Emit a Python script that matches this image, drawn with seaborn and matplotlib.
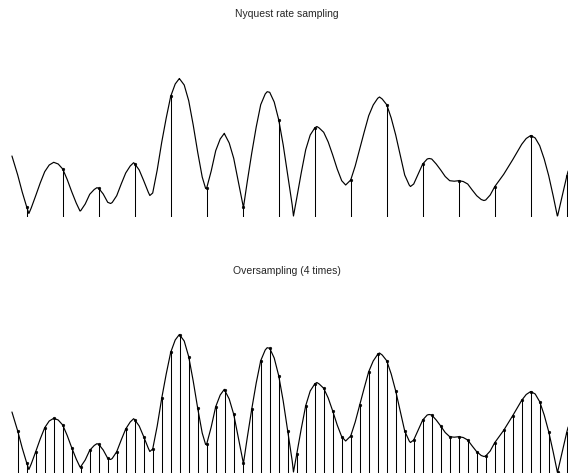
import matplotlib
matplotlib.use("Agg")
import matplotlib.pyplot as plt
import seaborn as sns
import pandas as pd

# Continuous signal envelope: (time in sample periods, amplitude)
curve_t = [
    -0.41, -0.25, -0.125, 0.0, 0.06, 0.125, 0.25, 0.375, 0.5, 0.625, 0.75, 0.875,
    1.0, 1.125, 1.25, 1.375, 1.48, 1.5, 1.625, 1.75, 1.875, 1.95, 2.0, 2.125, 2.25,
    2.33, 2.375, 2.5, 2.625, 2.75, 2.875, 2.97, 3.0, 3.125, 3.25, 3.375, 3.42, 3.5,
    3.625, 3.75, 3.875, 4.0, 4.125, 4.24, 4.25, 4.375, 4.5, 4.625, 4.75, 4.875,
    4.97, 5.0, 5.125, 5.25, 5.375, 5.49, 5.5, 5.625, 5.75, 5.875, 6.02, 6.125,
    6.25, 6.375, 6.5, 6.625, 6.68, 6.75, 6.875, 7.0, 7.125, 7.25, 7.375, 7.41,
    7.5, 7.625, 7.75, 7.875, 8.0, 8.06, 8.125, 8.25, 8.375, 8.5, 8.625, 8.75,
    8.86, 9.0, 9.125, 9.25, 9.375, 9.5, 9.625, 9.75, 9.8, 9.875, 10.0, 10.125,
    10.25, 10.375, 10.5, 10.625, 10.66, 10.75, 10.875, 11.0, 11.125, 11.18,
    11.25, 11.375, 11.5, 11.625, 11.75, 11.875, 12.0, 12.125, 12.25, 12.375,
    12.5, 12.625, 12.7, 12.75, 12.875, 13.0, 13.125, 13.25, 13.375, 13.5,
    13.625, 13.75, 13.875, 14.0, 14.125, 14.25, 14.375, 14.5, 14.625, 14.74,
    14.75, 14.875, 15.0, 15.04,
]
curve_amp = [
    61.0, 42.0, 25.0, 10.0, 3.5, 9.0, 21.3, 34.0, 45.3, 52.0, 54.7, 53.0,
    48.0, 37.5, 25.3, 14.0, 6.0, 6.3, 13.0, 22.7, 27.5, 29.3, 28.7, 23.0, 14.7,
    13.5, 14.5, 21.3, 33.0, 44.0, 51.0, 54.3, 53.3, 47.0, 36.3, 25.0, 21.5, 24.0,
    47.0, 74.7, 99.0, 120.7, 133.0, 138.5, 138.0, 132.0, 116.3, 92.0, 64.7, 40.0,
    28.5, 29.0, 46.0, 66.3, 78.0, 83.7, 82.7, 74.0, 58.7, 36.0, 9.5, 35.0,
    63.7, 90.0, 112.3, 123.0, 125.3, 124.7, 115.0, 97.3, 72.0, 42.0, 12.0, 1.0,
    18.7, 44.0, 67.3, 82.0, 89.0, 90.5, 89.0, 84.7, 75.0, 62.0, 48.0, 36.3,
    32.0, 37.0, 51.0, 68.0, 85.0, 101.3, 112.0, 118.7, 120.0, 118.0, 112.3, 99.0,
    82.0, 62.0, 42.0, 32.0, 30.5, 33.0, 43.0, 53.0, 58.0, 58.5,
    58.0, 53.0, 47.0, 40.5, 36.3, 35.8, 36.3, 35.5, 33.0, 27.0,
    21.3, 17.5, 16.5, 17.0, 22.0, 30.3, 36.5, 42.7, 50.0, 57.3,
    65.0, 72.7, 78.5, 81.5, 79.0, 71.3, 58.0, 41.3, 21.0, 1.0,
    1.5, 21.0, 40.5, 46.0,
]

# Samples taken at four times the Nyquist rate, starting at t = -0.25
over_t = [
    -0.25, 0.0, 0.25, 0.5, 0.75, 1.0, 1.25, 1.5, 1.75, 2.0, 2.25, 2.5, 2.75,
    3.0, 3.25, 3.5, 3.75, 4.0, 4.25, 4.5, 4.75, 5.0, 5.25, 5.5, 5.75, 6.0,
    6.25, 6.5, 6.75, 7.0, 7.25, 7.5, 7.75, 8.0, 8.25, 8.5, 8.75, 9.0, 9.25,
    9.5, 9.75, 10.0, 10.25, 10.5, 10.75, 11.0, 11.25, 11.5, 11.75, 12.0,
    12.25, 12.5, 12.75, 13.0, 13.25, 13.5, 13.75, 14.0, 14.25, 14.5, 14.75, 15.0,
]
over_amp = [
    42.0, 10.0, 21.3, 45.3, 54.7, 48.0, 25.3, 6.3, 22.7, 28.7, 14.7, 21.3, 44.0,
    53.3, 36.3, 24.0, 74.7, 120.7, 138.0, 116.3, 64.7, 29.0, 66.3, 82.7, 58.7, 10.3,
    63.7, 112.3, 124.7, 97.3, 42.0, 18.7, 67.3, 89.0, 84.7, 62.0, 36.3, 37.0, 68.0,
    101.3, 118.7, 112.3, 82.0, 42.0, 33.0, 53.0, 58.0, 47.0, 36.3, 36.3,
    33.0, 21.3, 17.0, 30.3, 42.7, 57.3, 72.7, 81.3, 71.3, 41.3, 1.0, 40.5,
]

# Nyquist-rate samples are every fourth oversampled point (t = 0, 1, ..., 15)
nyq_t = over_t[1::4]
nyq_amp = over_amp[1::4]

titles = ["Nyquest rate sampling", "Oversampling (4 times)"]

sns.set_style("white")
plt.rcParams["font.family"] = ["Liberation Sans", "DejaVu Sans"]

W, H = 568, 473
fig = plt.figure(figsize=(W / 100, H / 100), dpi=100)

curve_df = pd.DataFrame({"t": curve_t, "amp": curve_amp})
panels = [
    (pd.DataFrame({"t": nyq_t, "amp": nyq_amp}), 217, 14),
    (pd.DataFrame({"t": over_t, "amp": over_amp}), 473, 271),
]

ymax = 190.0
for (samples, base_px, title_px), title in zip(panels, titles):
    ax = fig.add_axes([0, (H - base_px) / H, 1, ymax / H])
    sns.lineplot(data=curve_df, x="t", y="amp", ax=ax, color="black",
                 linewidth=0.85, sort=False, estimator=None,
                 solid_joinstyle="round")
    ax.vlines(samples["t"], 0, samples["amp"], color="black", linewidth=0.75)
    sns.scatterplot(data=samples, x="t", y="amp", ax=ax, color="black",
                    s=4, edgecolor="black", linewidth=0.3, zorder=3)
    ax.set_xlim(-0.742, 15.036)
    ax.set_ylim(0, ymax)
    ax.axis("off")
    fig.text(287 / W, 1 - title_px / H, title, ha="center", va="center",
             fontsize=7.5)

fig.savefig("out.png", dpi=100)
